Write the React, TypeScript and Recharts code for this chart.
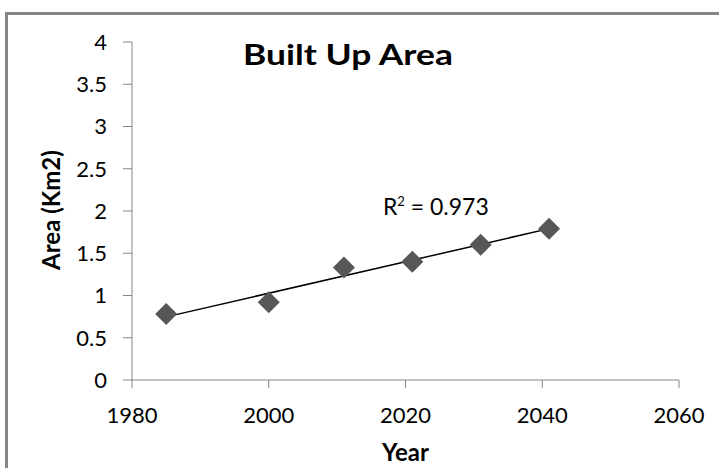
import React from "react";
import {
    ScatterChart,
    Scatter,
    XAxis,
    YAxis,
    ReferenceLine,
    ReferenceDot,
    Label,
} from "recharts";

// Built up area readings
const years = [1985, 2000, 2011, 2021, 2031, 2041];
const areas = [0.78, 0.92, 1.33, 1.4, 1.6, 1.79];
const xTicks = [1980, 2000, 2020, 2040, 2060];
const yTicks = [0, 0.5, 1, 1.5, 2, 2.5, 3, 3.5, 4];
const rSquaredText = "0.973";

const points = years.map((year, i) => ({ year, area: areas[i] }));

// least squares trend line over the points
const meanX = years.reduce((a, b) => a + b, 0) / years.length;
const meanY = areas.reduce((a, b) => a + b, 0) / areas.length;
const slope =
    years.reduce((s, x, i) => s + (x - meanX) * (areas[i] - meanY), 0) /
    years.reduce((s, x) => s + (x - meanX) * (x - meanX), 0);
const fit = (x: number) => meanY + slope * (x - meanX);
const firstYear = years[0];
const lastYear = years[years.length - 1];

const FONT = "Lato, 'Open Sans', sans-serif";
const AXIS_GREY = "#868686";

const Diamond = (props: any) => {
    const { cx, cy } = props;
    const r = 11;
    return (
        <polygon
            points={`${cx},${cy - r} ${cx + r},${cy} ${cx},${cy + r} ${cx - r},${cy}`}
            fill="#575757"
        />
    );
};

const App: React.FC = () => {
    return (
        <div
            style={{
                position: "absolute",
                left: 0,
                top: 0,
                width: 719,
                height: 468,
                overflow: "hidden",
                background: "#fff",
            }}
        >
            <div
                style={{
                    position: "absolute",
                    left: 5,
                    top: 12,
                    width: 800,
                    height: 600,
                    border: `3px solid ${AXIS_GREY}`,
                }}
            />
            <div
                style={{
                    position: "absolute",
                    left: 0,
                    top: 39,
                    width: 696,
                    textAlign: "center",
                    fontFamily: FONT,
                    fontWeight: 700,
                    fontSize: 29,
                    lineHeight: "29px",
                    color: "#000",
                    transform: "scaleX(1.22)",
                    transformOrigin: "348px 0",
                }}
            >
                Built Up Area
            </div>
            <div style={{ position: "absolute", left: 0, top: 0 }}>
                <ScatterChart
                    width={719}
                    height={468}
                    margin={{ top: 42, right: 40, bottom: 0, left: 0 }}
                >
                    <XAxis
                        type="number"
                        dataKey="year"
                        domain={[1980, 2060]}
                        ticks={xTicks}
                        height={88}
                        tickSize={8}
                        tickMargin={19}
                        stroke={AXIS_GREY}
                        tick={{ fill: "#000", fontSize: 22, fontFamily: FONT }}
                    >
                        <Label
                            content={(p: any) => {
                                const vb = p.viewBox;
                                return (
                                    <text
                                        x={vb.x + vb.width / 2}
                                        y={461}
                                        textAnchor="middle"
                                        fontFamily={FONT}
                                        fontWeight={700}
                                        fontSize={24}
                                        fill="#000"
                                    >
                                        Year
                                    </text>
                                );
                            }}
                        />
                    </XAxis>
                    <YAxis
                        type="number"
                        dataKey="area"
                        domain={[0, 4]}
                        ticks={yTicks}
                        width={132}
                        tickSize={9}
                        tickMargin={16}
                        stroke={AXIS_GREY}
                        tick={{ fill: "#000", fontSize: 22, fontFamily: FONT }}
                    >
                        <Label
                            content={(p: any) => {
                                const vb = p.viewBox;
                                const cy = vb.y + vb.height / 2 - 1;
                                return (
                                    <text
                                        x={60}
                                        y={cy}
                                        transform={`rotate(-90, 60, ${cy})`}
                                        textAnchor="middle"
                                        fontFamily={FONT}
                                        fontWeight={700}
                                        fontSize={24}
                                        fill="#000"
                                    >
                                        Area (Km2)
                                    </text>
                                );
                            }}
                        />
                    </YAxis>
                    <ReferenceLine
                        segment={[
                            { x: firstYear, y: fit(firstYear) },
                            { x: lastYear, y: fit(lastYear) },
                        ]}
                        stroke="#000"
                        strokeWidth={1.5}
                        ifOverflow="visible"
                    />
                    <Scatter
                        data={points}
                        shape={<Diamond />}
                        isAnimationActive={false}
                    />
                    <ReferenceDot
                        x={2016.7}
                        y={1.95}
                        r={0}
                        stroke="none"
                        fill="none"
                        ifOverflow="visible"
                        label={(p: any) => {
                            const vb = p.viewBox;
                            return (
                                <text
                                    x={vb.x}
                                    y={vb.y}
                                    textAnchor="start"
                                    fontFamily={FONT}
                                    fontSize={23}
                                    fill="#000"
                                >
                                    R
                                    <tspan fontSize={13} dy={-9}>
                                        2
                                    </tspan>
                                    <tspan dy={9}> = {rSquaredText}</tspan>
                                </text>
                            );
                        }}
                    />
                </ScatterChart>
            </div>
        </div>
    );
};

export default App;
